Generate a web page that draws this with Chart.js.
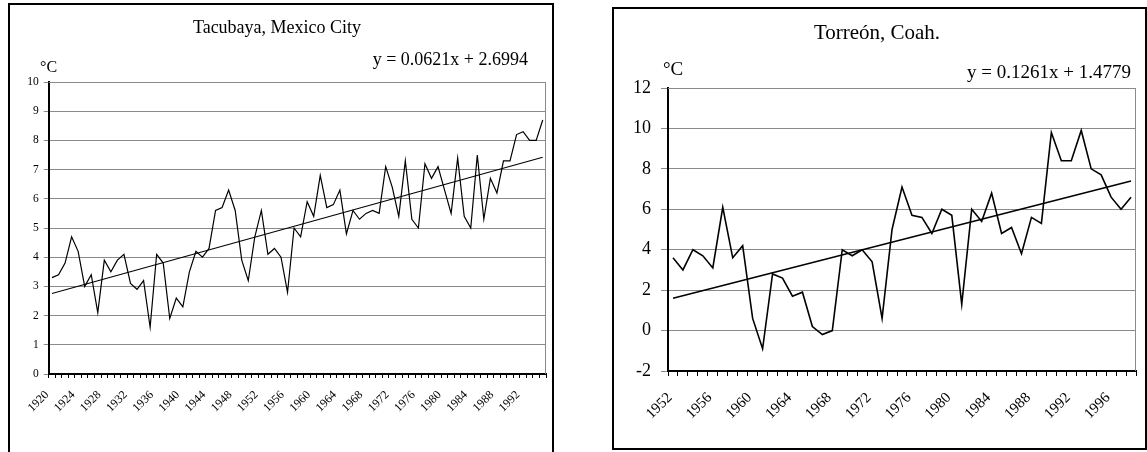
<!DOCTYPE html>
<html>
<head>
<meta charset="utf-8">
<script src="https://cdn.jsdelivr.net/npm/chart.js@4.4.1/dist/chart.umd.min.js"></script>
<style>
  html, body { margin: 0; padding: 0; background: #fff; width: 1147px; height: 452px; overflow: hidden; }
  .cornice { position: absolute; border: 2px solid #000; box-sizing: border-box; }
  canvas { position: absolute; }
</style>
</head>
<body>
<div class="cornice" style="left:8px; top:3px; width:546px; height:470px;"></div>
<div class="cornice" style="left:612px; top:7px; width:535px; height:443px;"></div>
<canvas id="tacubaya" width="540" height="446" style="left:11px; top:6px;"></canvas>
<canvas id="torreon" width="530" height="438" style="left:614px; top:9px;"></canvas>
<script>
// ── Dati ────────────────────────────────────────────────────────────────────
const anniTacubaya = ['1920','1921','1922','1923','1924','1925','1926','1927','1928','1929',
  '1930','1931','1932','1933','1934','1935','1936','1937','1938','1939',
  '1940','1941','1942','1943','1944','1945','1946','1947','1948','1949',
  '1950','1951','1952','1953','1954','1955','1956','1957','1958','1959',
  '1960','1961','1962','1963','1964','1965','1966','1967','1968','1969',
  '1970','1971','1972','1973','1974','1975','1976','1977','1978','1979',
  '1980','1981','1982','1983','1984','1985','1986','1987','1988','1989',
  '1990','1991','1992','1993','1994','1995'];
const tempTacubaya = [3.3,3.4,3.8,4.7,4.2,3.0,3.4,2.1,3.9,3.5,
  3.9,4.1,3.1,2.9,3.2,1.6,4.1,3.8,1.9,2.6,
  2.3,3.5,4.2,4.0,4.3,5.6,5.7,6.3,5.6,3.9,
  3.2,4.7,5.6,4.1,4.3,4.0,2.8,5.0,4.7,5.9,
  5.4,6.8,5.7,5.8,6.3,4.8,5.6,5.3,5.5,5.6,
  5.5,7.1,6.4,5.4,7.3,5.3,5.0,7.2,6.7,7.1,
  6.3,5.5,7.4,5.4,5.0,7.5,5.3,6.7,6.2,7.3,
  7.3,8.2,8.3,8.0,8.0,8.7];
const trendTacubaya = [2.76, 7.42];   // estremi della retta y = 0.0621x + 2.6994
const tickTacubaya = ['1920','1924','1928','1932','1936','1940','1944','1948','1952','1956',
  '1960','1964','1968','1972','1976','1980','1984','1988','1992'];

const anniTorreon = ['1952','1953','1954','1955','1956','1957','1958','1959','1960','1961',
  '1962','1963','1964','1965','1966','1967','1968','1969','1970','1971',
  '1972','1973','1974','1975','1976','1977','1978','1979','1980','1981',
  '1982','1983','1984','1985','1986','1987','1988','1989','1990','1991',
  '1992','1993','1994','1995','1996','1997','1998'];
const tempTorreon = [3.6,3.0,4.0,3.7,3.1,6.1,3.6,4.2,0.6,-0.9,
  2.8,2.6,1.7,1.9,0.2,-0.2,0.0,4.0,3.7,4.0,
  3.4,0.6,5.0,7.1,5.7,5.6,4.8,6.0,5.7,1.3,
  6.0,5.4,6.8,4.8,5.1,3.8,5.6,5.3,9.8,8.4,
  8.4,9.9,8.0,7.7,6.6,6.0,6.6];
const trendTorreon = [1.60, 7.40];    // estremi della retta y = 0.1261x + 1.4779
const tickTorreon = ['1952','1956','1960','1964','1968','1972','1976','1980','1984','1988','1992','1996'];

// ── Plugin: titolo, unità, equazione e bordo grigio dell'area dati ─────────
const testiPlugin = {
  id: 'testi',
  afterDraw(chart, args, o) {
    const { ctx, chartArea: a } = chart;
    ctx.save();
    ctx.strokeStyle = '#8a8a8a';
    ctx.lineWidth = 1;
    ctx.beginPath();
    ctx.moveTo(a.left, a.top + 0.5);
    ctx.lineTo(a.right - 0.5, a.top + 0.5);
    ctx.lineTo(a.right - 0.5, a.bottom);
    ctx.stroke();

    ctx.fillStyle = '#000';
    ctx.textBaseline = 'middle';
    ctx.font = o.titleFont;
    ctx.textAlign = 'center';
    ctx.fillText(o.title, o.titleX, o.titleY);
    ctx.font = o.eqFont;
    ctx.textAlign = 'right';
    ctx.fillText(o.equation, o.eqX, o.eqY);
    ctx.font = o.unitFont;
    ctx.textAlign = 'left';
    ctx.fillText('°C', o.unitX, o.unitY);
    ctx.restore();
  }
};

function creaGrafico(id, anni, temp, trend, ticksVisibili, s) {
  const ctx = document.getElementById(id).getContext('2d');
  return new Chart(ctx, {
    type: 'line',
    data: {
      labels: anni,
      datasets: [{
        data: temp,
        borderColor: '#000',
        borderWidth: s.lineWidth,
        pointRadius: 0,
        tension: 0
      }, {
        data: [{ x: anni[0], y: trend[0] }, { x: anni[anni.length - 1], y: trend[1] }],
        borderColor: '#000',
        borderWidth: s.trendWidth,
        pointRadius: 0,
        tension: 0
      }]
    },
    plugins: [testiPlugin],
    options: {
      responsive: false,
      animation: false,
      devicePixelRatio: 1,
      layout: { padding: { left: 0, right: s.padRight, top: s.padTop, bottom: 0 } },
      plugins: {
        legend: { display: false },
        tooltip: { enabled: false },
        testi: s.testi
      },
      scales: {
        x: {
          type: 'category',
          offset: true,
          grid: { offset: true, drawOnChartArea: false, color: '#000', tickLength: s.xTickLen, lineWidth: 1 },
          border: { color: '#000', width: s.axisWidth },
          ticks: {
            autoSkip: false,
            minRotation: 45,
            maxRotation: 45,
            padding: s.xPad,
            labelOffset: s.xShift,
            color: '#000',
            font: { family: 'Liberation Serif', size: s.xFont },
            callback(v) {
              const l = this.getLabelForValue(v);
              return ticksVisibili.includes(l) ? l : '';
            }
          },
          // altezza fissa e niente padding laterale: l'area dati resta dove deve stare
          afterFit(scale) {
            scale.height = s.xHeight;
            scale.paddingLeft = 0;
            scale.paddingRight = 0;
          }
        },
        y: {
          min: s.yMin,
          max: s.yMax,
          grid: { color: '#8a8a8a', lineWidth: 1, tickLength: s.yTickLen },
          border: { color: '#000', width: s.axisWidth },
          ticks: {
            stepSize: s.yStep,
            padding: s.yPad,
            color: '#000',
            font: { family: 'Liberation Serif', size: s.yFont }
          },
          afterFit(scale) {
            scale.width = s.yWidth;
            scale.paddingTop = 0;
            scale.paddingBottom = 0;
          }
        }
      }
    }
  });
}

creaGrafico('tacubaya', anniTacubaya, tempTacubaya, trendTacubaya, tickTacubaya, {
  lineWidth: 1.2, trendWidth: 1.1, axisWidth: 2,
  padRight: 5, padTop: 76, xHeight: 78, yWidth: 37.7,
  xTickLen: 4, yTickLen: 5, xPad: 10, xShift: -5, yPad: 5, xFont: 12, yFont: 11.5,
  yMin: 0, yMax: 10, yStep: 1,
  testi: {
    title: 'Tacubaya, Mexico City', titleFont: '18px "Liberation Serif"', titleX: 266, titleY: 22,
    equation: 'y = 0.0621x + 2.6994', eqFont: '18px "Liberation Serif"', eqX: 517, eqY: 54,
    unitFont: '16px "Liberation Serif"', unitX: 29, unitY: 62
  }
});

creaGrafico('torreon', anniTorreon, tempTorreon, trendTorreon, tickTorreon, {
  lineWidth: 1.6, trendWidth: 1.5, axisWidth: 2,
  padRight: 8, padTop: 79, xHeight: 76, yWidth: 54,
  xTickLen: 5, yTickLen: 7, xPad: 13, xShift: -3, yPad: 10, xFont: 15, yFont: 18,
  yMin: -2, yMax: 12, yStep: 2,
  testi: {
    title: 'Torreón, Coah.', titleFont: '21px "Liberation Serif"', titleX: 263, titleY: 24,
    equation: 'y = 0.1261x + 1.4779', eqFont: '19px "Liberation Serif"', eqX: 517, eqY: 64,
    unitFont: '19px "Liberation Serif"', unitX: 49, unitY: 61
  }
});
</script>
</body>
</html>
